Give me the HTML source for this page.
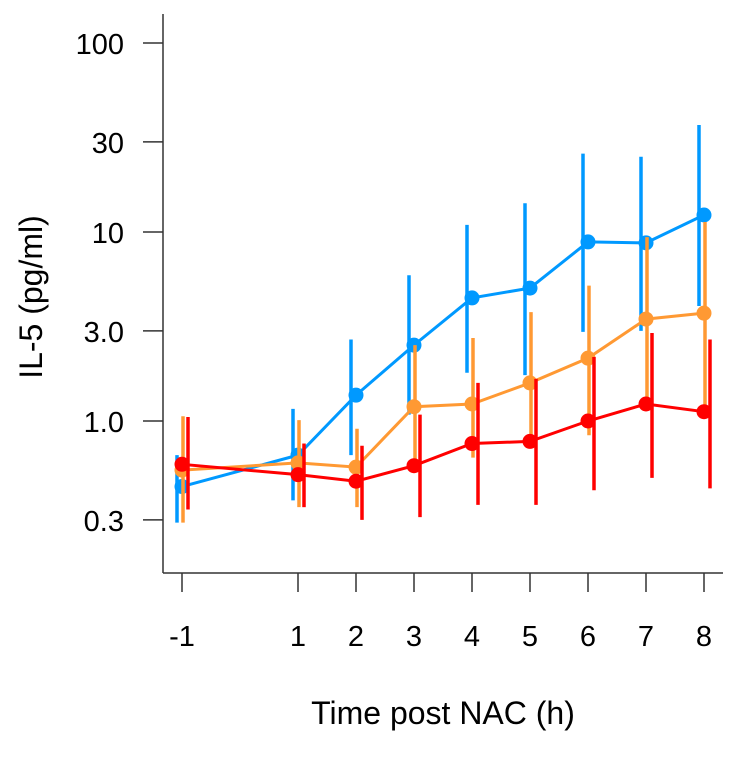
<!DOCTYPE html>
<html><head><meta charset="utf-8"><style>
html,body{margin:0;padding:0;background:#fff;}
svg text{font-family:"Liberation Sans",Arial,sans-serif;fill:#000;}
</style></head><body>
<svg id="chart" width="750" height="760"></svg>
<script>
const times=[-1,1,2,3,4,5,6,7,8];
const yTicks=[0.3,1,3,10,30,100];
const yTickLabels=["0.3","1.0","3.0","10","30","100"];
const xTickLabels=["-1","1","2","3","4","5","6","7","8"];
const blueMean=[0.45,0.66,1.37,2.52,4.48,5.05,8.86,8.76,12.3];
const blueLo=[0.29,0.38,0.66,1.08,1.8,1.75,2.96,3.0,4.06];
const blueHi=[0.66,1.16,2.7,5.9,10.9,14.2,26,25,36.8];
const orangeMean=[0.55,0.6,0.57,1.19,1.23,1.59,2.15,3.46,3.72];
const orangeLo=[0.29,0.35,0.35,0.58,0.64,0.83,0.84,1.22,1.2];
const orangeHi=[1.06,1.01,0.91,2.52,2.75,3.77,5.2,9.4,11.3];
const redMean=[0.59,0.52,0.48,0.58,0.76,0.78,1.0,1.23,1.12];
const redLo=[0.34,0.35,0.3,0.31,0.36,0.36,0.43,0.5,0.44];
const redHi=[1.05,0.76,0.74,1.08,1.59,1.67,2.18,2.92,2.7];

const NS="http://www.w3.org/2000/svg";
const svg=document.getElementById('chart');
const xS=t=>298+58*(t-1);
const yS=v=>421-189*Math.log10(v);
function mk(tag,attrs,parent){const e=document.createElementNS(NS,tag);for(const k in attrs)e.setAttribute(k,attrs[k]);(parent||svg).appendChild(e);return e;}

const axes=mk('g',{});


const yl=mk('line',{x1:163,y1:14,x2:163,y2:573,stroke:'#333','stroke-width':1.5},axes);


const xl=mk('line',{x1:163,y1:573,x2:723,y2:573,stroke:'#333','stroke-width':1.5},axes);


yTicks.forEach((v,i)=>{
  const y=yS(v);
  const t=mk('line',{x1:143,y1:y,x2:163,y2:y,stroke:'#333','stroke-width':1.5},axes);
  
  
  const l=mk('text',{x:124,y:y+11,'text-anchor':'end','font-size':29},axes);
  l.textContent=yTickLabels[i];
  
  
});
times.forEach((t,i)=>{
  const x=xS(t);
  const tk=mk('line',{x1:x,y1:573,x2:x,y2:592,stroke:'#333','stroke-width':1.5},axes);
  
  
  const l=mk('text',{x:x,y:646,'text-anchor':'middle','font-size':29},axes);
  l.textContent=xTickLabels[i];
  
  
});
const xt=mk('text',{x:443,y:724,'text-anchor':'middle','font-size':32});
xt.textContent='Time post NAC (h)';


const yt=mk('text',{x:0,y:0,'text-anchor':'middle','font-size':32,transform:'translate(42,297) rotate(-90)'});
yt.textContent='IL-5 (pg/ml)';



function series(name,color,mean,lo,hi,off){
  const g=mk('g',{});
  
  
  const pts=times.map((t,i)=>xS(t)+','+yS(mean[i])).join(' ');
  const pl=mk('polyline',{points:pts,fill:'none',stroke:color,'stroke-width':3},g);
  
  
  times.forEach((t,i)=>{
    const x=xS(t);
    const eb=mk('line',{x1:x+off,x2:x+off,y1:yS(hi[i]),y2:yS(lo[i]),stroke:color,'stroke-width':3.5},g);
    
    
    const c=mk('circle',{cx:x,cy:yS(mean[i]),r:7.5,fill:color},g);
    
    
  });
}
series('blue','#0099ff',blueMean,blueLo,blueHi,-5);
series('orange','#ff9933',orangeMean,orangeLo,orangeHi,1);
series('red','#ff0000',redMean,redLo,redHi,6);
</script>
</body></html>
